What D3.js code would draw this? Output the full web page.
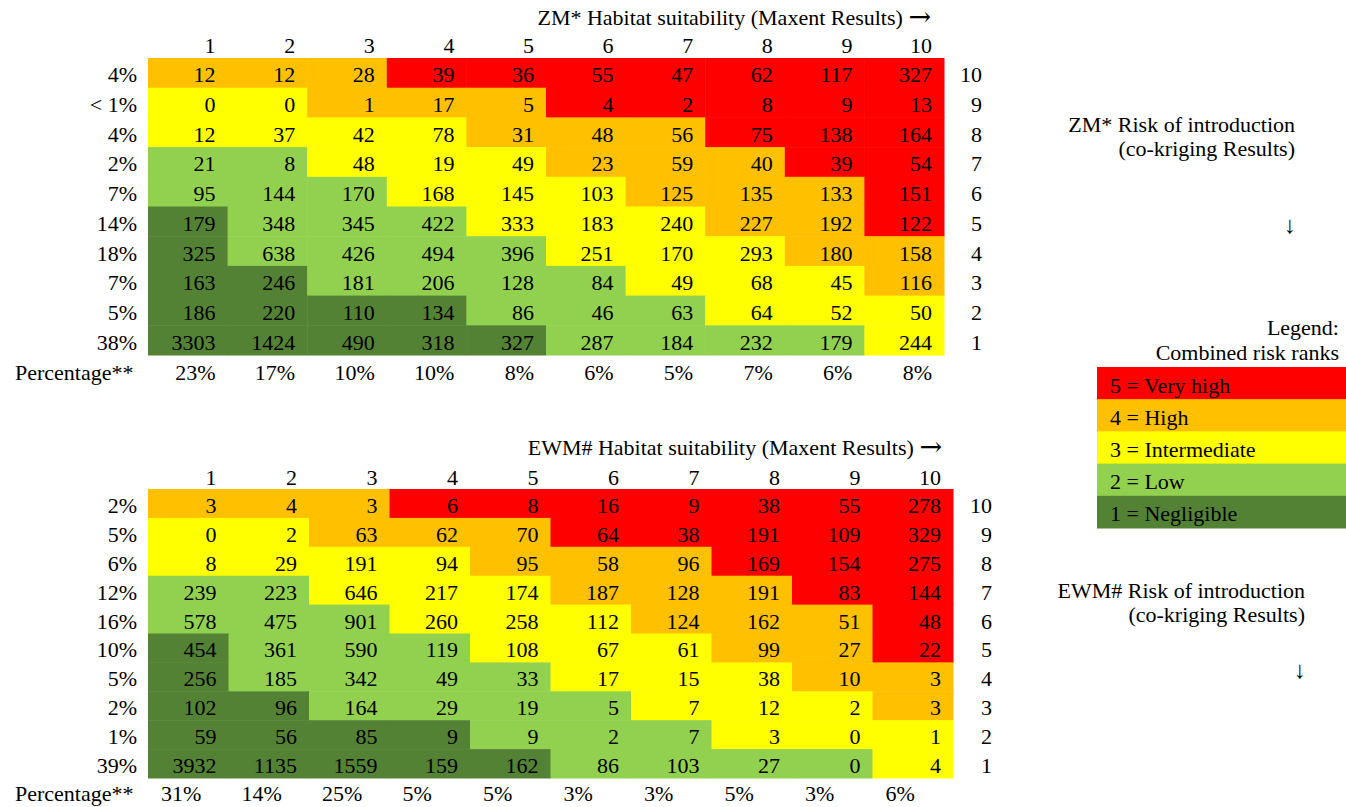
<!DOCTYPE html>
<html>
<head>
<meta charset="utf-8">
<script src="https://cdn.jsdelivr.net/npm/d3@7"></script>
<style>
  body { margin: 0; background: #fff; }
  svg text { font-family: "Liberation Serif", "Times New Roman", serif; font-size: 22px; fill: #000; }
</style>
</head>
<body>
<svg id="chart"></svg>
<script>
"use strict";

// =================== DATA ===================
const habitatCols = [1, 2, 3, 4, 5, 6, 7, 8, 9, 10];
const riskRows = [10, 9, 8, 7, 6, 5, 4, 3, 2, 1];

// combined risk rank of every cell (rows 10 -> 1, cols 1 -> 10), same in both tables
const riskRanks = [
  [4, 4, 4, 5, 5, 5, 5, 5, 5, 5],
  [3, 3, 4, 4, 4, 5, 5, 5, 5, 5],
  [3, 3, 3, 3, 4, 4, 4, 5, 5, 5],
  [2, 2, 3, 3, 3, 4, 4, 4, 5, 5],
  [2, 2, 2, 3, 3, 3, 4, 4, 4, 5],
  [1, 2, 2, 2, 3, 3, 3, 4, 4, 5],
  [1, 2, 2, 2, 2, 3, 3, 3, 4, 4],
  [1, 1, 2, 2, 2, 2, 3, 3, 3, 4],
  [1, 1, 1, 1, 2, 2, 2, 3, 3, 3],
  [1, 1, 1, 1, 1, 2, 2, 2, 2, 3]
];

const zmCounts = [
  [12, 12, 28, 39, 36, 55, 47, 62, 117, 327],
  [0, 0, 1, 17, 5, 4, 2, 8, 9, 13],
  [12, 37, 42, 78, 31, 48, 56, 75, 138, 164],
  [21, 8, 48, 19, 49, 23, 59, 40, 39, 54],
  [95, 144, 170, 168, 145, 103, 125, 135, 133, 151],
  [179, 348, 345, 422, 333, 183, 240, 227, 192, 122],
  [325, 638, 426, 494, 396, 251, 170, 293, 180, 158],
  [163, 246, 181, 206, 128, 84, 49, 68, 45, 116],
  [186, 220, 110, 134, 86, 46, 63, 64, 52, 50],
  [3303, 1424, 490, 318, 327, 287, 184, 232, 179, 244]
];
const zmRowPct = ["4%", "< 1%", "4%", "2%", "7%", "14%", "18%", "7%", "5%", "38%"];
const zmColPct = ["23%", "17%", "10%", "10%", "8%", "6%", "5%", "7%", "6%", "8%"];

const ewmCounts = [
  [3, 4, 3, 6, 8, 16, 9, 38, 55, 278],
  [0, 2, 63, 62, 70, 64, 38, 191, 109, 329],
  [8, 29, 191, 94, 95, 58, 96, 169, 154, 275],
  [239, 223, 646, 217, 174, 187, 128, 191, 83, 144],
  [578, 475, 901, 260, 258, 112, 124, 162, 51, 48],
  [454, 361, 590, 119, 108, 67, 61, 99, 27, 22],
  [256, 185, 342, 49, 33, 17, 15, 38, 10, 3],
  [102, 96, 164, 29, 19, 5, 7, 12, 2, 3],
  [59, 56, 85, 9, 9, 2, 7, 3, 0, 1],
  [3932, 1135, 1559, 159, 162, 86, 103, 27, 0, 4]
];
const ewmRowPct = ["2%", "5%", "6%", "12%", "16%", "10%", "5%", "2%", "1%", "39%"];
const ewmColPct = ["31%", "14%", "25%", "5%", "5%", "3%", "3%", "5%", "3%", "6%"];

const legendRanks = [5, 4, 3, 2, 1];
const legendNames = ["Very high", "High", "Intermediate", "Low", "Negligible"];

// =================== SETUP ===================
const svgWidth = 1346;
const svgHeight = 807;
const svg = d3.select("#chart").attr("width", svgWidth).attr("height", svgHeight);

const rankColor = d3.scaleOrdinal()
  .domain([1, 2, 3, 4, 5])
  .range(["#548235", "#92D050", "#FFFF00", "#FFC000", "#FF0000"]);

// =================== TABLES ===================
function drawTable(cfg) {
  const x = d3.scaleBand().domain(habitatCols).range([cfg.left, cfg.right]);
  const y = d3.scaleBand().domain(riskRows).range([cfg.top, cfg.bottom]);
  const g = svg.append("g");

  const cells = [];
  riskRows.forEach((r, i) => {
    habitatCols.forEach((c, j) => {
      cells.push({ row: r, col: c, count: cfg.counts[i][j], rank: riskRanks[i][j] });
    });
  });

  g.selectAll("rect.cell")
    .data(cells)
    .enter()
    .append("rect")
    .attr("class", "cell")
    .attr("x", d => x(d.col))
    .attr("y", d => y(d.row))
    .attr("width", x.bandwidth() + 0.5)
    .attr("height", y.bandwidth() + 0.5)
    .attr("fill", d => rankColor(d.rank));

  g.selectAll("text.count")
    .data(cells)
    .enter()
    .append("text")
    .attr("class", "count")
    .attr("x", d => x(d.col) + x.bandwidth() - 12)
    .attr("y", d => y(d.row) + y.bandwidth() / 2 + 9.5)
    .attr("text-anchor", "end")
    .text(d => d.count);

  // column headers
  g.selectAll("text.colhead")
    .data(habitatCols)
    .enter()
    .append("text")
    .attr("x", d => x(d) + x.bandwidth() - 12)
    .attr("y", cfg.headY)
    .attr("text-anchor", "end")
    .text(d => d);

  // row percentages (left)
  g.selectAll("text.rowpct")
    .data(riskRows)
    .enter()
    .append("text")
    .attr("x", 137)
    .attr("y", d => y(d) + y.bandwidth() / 2 + 9.5)
    .attr("text-anchor", "end")
    .text((d, i) => cfg.rowPct[i]);

  // risk ranks (right)
  g.selectAll("text.rowrank")
    .data(riskRows)
    .enter()
    .append("text")
    .attr("x", cfg.right + cfg.rankGap)
    .attr("y", d => y(d) + y.bandwidth() / 2 + 9.5)
    .attr("text-anchor", "end")
    .text(d => d);

  // column percentages
  g.append("text")
    .attr("x", 15)
    .attr("y", cfg.pctY)
    .text("Percentage**");

  g.selectAll("text.colpct")
    .data(habitatCols)
    .enter()
    .append("text")
    .attr("x", d => cfg.pctAlign === "end" ? x(d) + x.bandwidth() - 12 : x(d) + 13)
    .attr("y", cfg.pctY)
    .attr("text-anchor", cfg.pctAlign)
    .text((d, i) => cfg.colPct[i]);

  // title with a wide arrow
  const title = g.append("text")
    .attr("x", cfg.titleX)
    .attr("y", cfg.titleY)
    .attr("text-anchor", "end");
  title.append("tspan").text(cfg.title + " ");
  title.append("tspan")
    .style("font-family", "'DejaVu Serif', serif")
    .style("font-size", "27px")
    .attr("dy", 1)
    .text("\u2192");

  // side label
  g.append("text")
    .attr("x", cfg.sideX)
    .attr("y", cfg.sideY)
    .attr("text-anchor", "end")
    .text(cfg.sideTitle);
  g.append("text")
    .attr("x", cfg.sideX)
    .attr("y", cfg.sideY + 24)
    .attr("text-anchor", "end")
    .text("(co-kriging Results)");
  g.append("text")
    .attr("x", cfg.sideX + 1)
    .attr("y", cfg.arrowY)
    .attr("text-anchor", "end")
    .style("font-size", "24px")
    .text("\u2193");
}

drawTable({
  counts: zmCounts, rowPct: zmRowPct, colPct: zmColPct,
  left: 148, right: 944, top: 58, bottom: 355,
  headY: 53, rankGap: 38, pctY: 380, pctAlign: "end",
  title: "ZM* Habitat suitability (Maxent Results)", titleX: 931, titleY: 25,
  sideTitle: "ZM* Risk of introduction", sideX: 1295, sideY: 132, arrowY: 233
});

drawTable({
  counts: ewmCounts, rowPct: ewmRowPct, colPct: ewmColPct,
  left: 148, right: 953, top: 489, bottom: 778,
  headY: 485, rankGap: 39, pctY: 801, pctAlign: "start",
  title: "EWM# Habitat suitability (Maxent Results)", titleX: 942, titleY: 455,
  sideTitle: "EWM# Risk of introduction", sideX: 1305, sideY: 598, arrowY: 678
});

// =================== LEGEND ===================
const legendY = d3.scaleBand().domain(legendRanks).range([367, 528]);
const legendLeft = 1097;

svg.append("text")
  .attr("x", 1339).attr("y", 335)
  .attr("text-anchor", "end")
  .text("Legend:");
svg.append("text")
  .attr("x", 1339).attr("y", 360)
  .attr("text-anchor", "end")
  .text("Combined risk ranks");

svg.selectAll("rect.legend")
  .data(legendRanks)
  .enter()
  .append("rect")
  .attr("x", legendLeft)
  .attr("y", d => legendY(d))
  .attr("width", svgWidth - legendLeft)
  .attr("height", legendY.bandwidth() + 0.5)
  .attr("fill", d => rankColor(d));

svg.selectAll("text.legend")
  .data(legendRanks)
  .enter()
  .append("text")
  .attr("x", legendLeft + 13)
  .attr("y", d => legendY(d) + legendY.bandwidth() / 2 + 9.5)
  .text((d, i) => `${d} = ${legendNames[i]}`);
</script>
</body>
</html>
